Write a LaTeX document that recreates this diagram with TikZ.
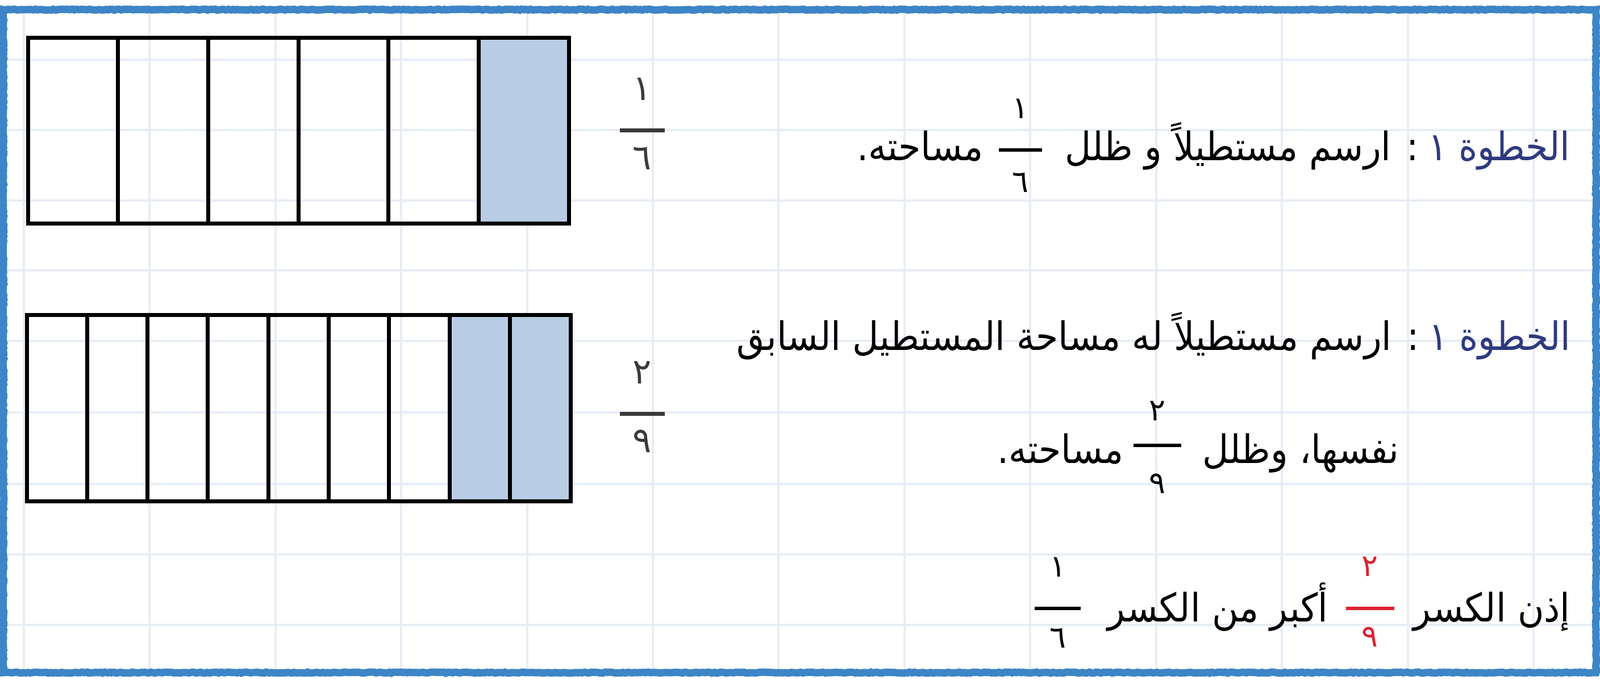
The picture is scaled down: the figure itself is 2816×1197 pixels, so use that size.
\documentclass[tikz,border=0pt]{standalone}
\usepackage{fontspec}
\TeXXeTstate=1
\newfontfamily\arabicfont[Script=Arabic,FakeStretch=0.92]{DejaVu Sans}
\newfontfamily\arabicnum[Script=Arabic]{DejaVu Sans}
\usetikzlibrary{decorations.pathmorphing}
\definecolor{gridc}{HTML}{E8EDF5}
\definecolor{frameblue}{HTML}{3D85C6}
\definecolor{shadec}{HTML}{B8CCE4}
\definecolor{navyc}{HTML}{2E3A7E}
\definecolor{fracred}{HTML}{DC2330}
\definecolor{numgray}{HTML}{3A3A3A}
\begin{document}
\begin{tikzpicture}[x=0.5pt,y=-0.5pt,
  gridline/.style={gridc,line width=2pt},
  boxline/.style={line width=3.5pt,black},
  framebox/.style={frameblue,line width=6.5pt,decorate,
    decoration={random steps,segment length=2pt,amplitude=0.45pt}},
  sidenum/.style={font=\arabicnum\fontsize{31}{36}\selectfont,text=numgray,inner sep=0pt},
  inum/.style={font=\arabicnum\fontsize{27}{30}\selectfont,inner sep=0pt},
  arab/.style={font=\arabicfont\fontsize{34.5}{40}\selectfont,inner sep=0pt},
  stepword/.style={arab,text=navyc},
  fbar/.style={line width=3pt}]
\useasboundingbox (0,0) rectangle (2816,1197);
\fill[white] (0,0) rectangle (2816,1197);
\foreach \x in {42,263,485,706,928,1149,1370,1592,1813,2035,2256,2478,2699}
  \draw[gridline] (\x,17) -- (\x,1184);
\foreach \y in {105,229,353,476,600,726,852,976,1100}
  \draw[gridline] (6,\y) -- (2809,\y);
% rectangle 1
\fill[shadec] (842.3,67) rectangle (1001,394);
\draw[boxline] (49,67) rectangle (1001,394);
\foreach \i in {1,...,5} \draw[boxline] ({49+158.67*\i},67) -- ({49+158.67*\i},394);
% rectangle 2
\fill[shadec] ({47+106.33*7},555) rectangle (1004,882);
\draw[boxline] (47,555) rectangle (1004,882);
\foreach \i in {1,...,8} \draw[boxline] ({47+106.33*\i},555) -- ({47+106.33*\i},882);
% side fractions
\node[sidenum] (sa1) at (1130,157) {١};
\coordinate (sab1) at (1091,230); \coordinate (sab2) at (1170,230);
\draw[fbar,numgray,line width=3.5pt] (sab1) -- (sab2);
\node[sidenum] (sa2) at (1130,279) {٦};
\node[sidenum] (sb1) at (1130,656) {٢};
\coordinate (sbb1) at (1091,728); \coordinate (sbb2) at (1170,728);
\draw[fbar,numgray,line width=3.5pt] (sbb1) -- (sbb2);
\node[sidenum] (sb2) at (1130,777) {٩};
% line 1
\node[stepword,anchor=base east] (h1) at (2764,283) {\beginR الخطوة ١\endR};
\node[arab,anchor=base east] (t1a) at (2497,283) {\beginR: ارسم مستطيلاً و ظلل\endR};
\node[inum] (f1n) at (1796,191) {١};
\coordinate (f1b1) at (1758,264); \coordinate (f1b2) at (1834,264);
\draw[fbar] (f1b1) -- (f1b2);
\node[inum] (f1d) at (1796,321) {٦};
\node[arab,anchor=base east] (t1b) at (1731,283) {\beginR مساحته.\endR};
% line 2
\node[stepword,anchor=base east] (h2) at (2765,617) {\beginR الخطوة ١\endR};
\node[arab,anchor=base east] (t2a) at (2498,617) {\beginR: ارسم مستطيلاً له مساحة المستطيل السابق\endR};
\node[arab,anchor=base east] (t2b) at (2463,815) {\beginR نفسها، وظلل\endR};
\node[inum] (f2n) at (2037,723) {٢};
\coordinate (f2b1) at (1995,784); \coordinate (f2b2) at (2079,784);
\draw[fbar] (f2b1) -- (f2b2);
\node[inum] (f2d) at (2037,851) {٩};
\node[arab,anchor=base east] (t2c) at (1978,815) {\beginR مساحته.\endR};
% line 3
\node[arab,anchor=base east] (t3a) at (2764,1094) {\beginR إذن الكسر\endR};
\node[inum,text=fracred] (f3n) at (2411,997) {٢};
\coordinate (f3b1) at (2369,1071); \coordinate (f3b2) at (2454,1071);
\draw[fbar,fracred] (f3b1) -- (f3b2);
\node[inum,text=fracred] (f3d) at (2411,1121) {٩};
\node[arab,anchor=base east] (t3b) at (2338,1094) {\beginR أكبر من الكسر\endR};
\node[inum] (f4n) at (1862,998) {١};
\coordinate (f4b1) at (1821,1071); \coordinate (f4b2) at (1902,1071);
\draw[fbar] (f4b1) -- (f4b2);
\node[inum] (f4d) at (1862,1123) {٦};
% frame
\draw[framebox] (6,17) -- (2809,17) -- (2809,1184) -- (6,1184) -- cycle;
\end{tikzpicture}
\end{document}
